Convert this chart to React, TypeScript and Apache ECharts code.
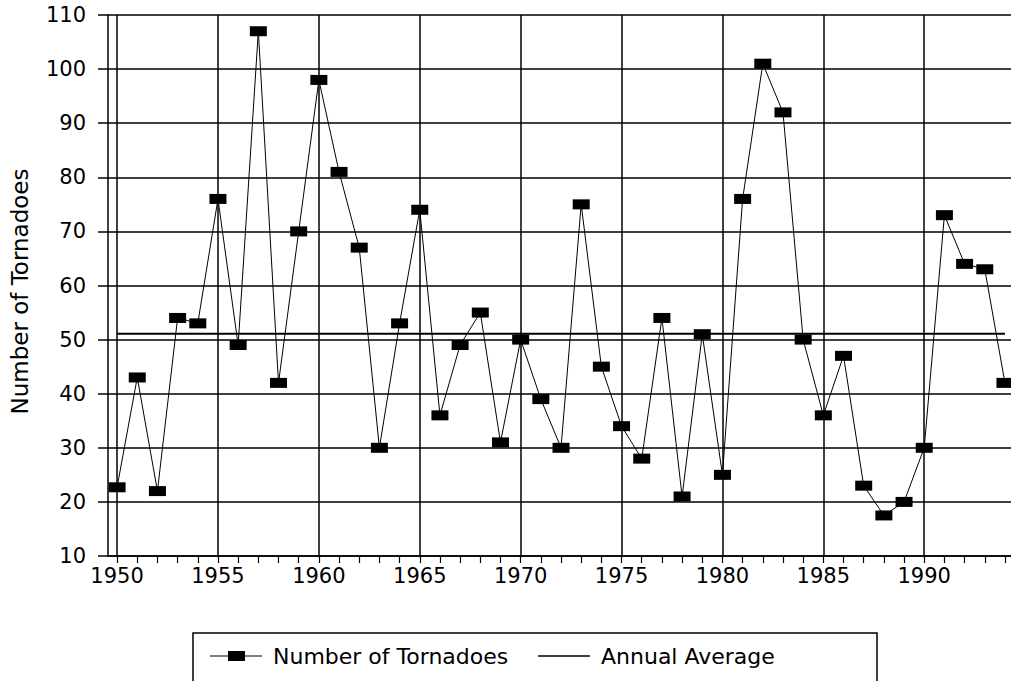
import React, { useEffect, useRef } from "react";
import * as echarts from "echarts";

const years: number[] = [];
for (let y = 1950; y <= 1994; y++) years.push(y);

const tornadoes = [
  22.7, 43, 22, 54, 53, 76, 49, 107, 42, 70,
  98, 81, 67, 30, 53, 74, 36, 49, 55, 31,
  50, 39, 30, 75, 45, 34, 28, 54, 21, 51,
  25, 76, 101, 92, 50, 36, 47, 23, 17.5, 20,
  30, 73, 64, 63, 42,
];

const averageYears = [1950, 1994];
const averageValues = [51.1, 51.1];

const xLabelYears = [1950, 1955, 1960, 1965, 1970, 1975, 1980, 1985, 1990];

const FONT = "DejaVu Sans";

export default function App() {
  const ref = useRef<HTMLDivElement>(null);
  useEffect(() => {
    if (!ref.current) return;
    const chart = echarts.init(ref.current, undefined, { renderer: "svg" });
    chart.setOption({
      animation: false,
      backgroundColor: "#fff",
      grid: { left: 107, right: 0, top: 15, bottom: 125, containLabel: false },
      xAxis: {
        type: "value",
        min: 1949.55,
        max: 1994.3,
        splitLine: { show: false },
        axisLine: { show: true, onZero: false, lineStyle: { color: "#000", width: 1.5 } },
        axisTick: {
          show: true,
          customValues: years,
          length: 7,
          lineStyle: { color: "#000", width: 1.2 },
        },
        axisLabel: {
          customValues: xLabelYears,
          margin: 9,
          color: "#000",
          fontFamily: FONT,
          fontSize: 21,
          formatter: (v: number) => String(v),
        },
      },
      yAxis: {
        type: "value",
        min: 10,
        max: 110,
        interval: 10,
        name: "Number of Tornadoes",
        nameLocation: "middle",
        nameGap: 77,
        nameTextStyle: { color: "#000", fontFamily: FONT, fontSize: 23, padding: [0, 12, 0, 0] },
        axisLine: { show: true, lineStyle: { color: "#000", width: 1.5 } },
        axisTick: { show: true, length: 10, lineStyle: { color: "#000", width: 1.5 } },
        splitLine: { show: true, lineStyle: { color: "#000", width: 1.5 } },
        axisLabel: { margin: 22, color: "#000", fontFamily: FONT, fontSize: 21 },
      },
      legend: [
        {
          left: 205,
          top: 640,
          itemWidth: 52,
          itemHeight: 10,
          data: [
            {
              name: "Number of Tornadoes",
              icon: "path://M0,4.4H52V5.6H0Z M18,0H35V10H18Z",
            },
          ],
          textStyle: { color: "#000", fontFamily: FONT, fontSize: 22, padding: [0, 0, 0, 6] },
        },
        {
          left: 533,
          top: 640,
          itemWidth: 52,
          itemHeight: 10,
          data: [{ name: "Annual Average", icon: "path://M0,0M0,4.2H52V5.8H0Z M52,10" }],
          textStyle: { color: "#000", fontFamily: FONT, fontSize: 22, padding: [0, 0, 0, 6] },
        },
      ],
      graphic: [
        {
          type: "rect",
          shape: { x: 193, y: 633, width: 684, height: 70 },
          style: { fill: "none", stroke: "#000", lineWidth: 1.5 },
          silent: true,
        },
      ],
      series: [
        {
          name: "Annual Average",
          type: "line",
          data: averageYears.map((y, i) => [y, averageValues[i]]),
          symbol: "none",
          itemStyle: { color: "#000" },
          lineStyle: { color: "#000", width: 2 },
          markLine: {
            silent: true,
            symbol: "none",
            label: { show: false },
            lineStyle: { color: "#000", width: 1.5, type: "solid" },
            data: xLabelYears.map((y) => ({ xAxis: y })),
          },
          z: 2,
        },
        {
          name: "Number of Tornadoes",
          type: "line",
          data: years.map((y, i) => [y, tornadoes[i]]),
          symbol: "rect",
          symbolSize: [17, 10],
          itemStyle: { color: "#000" },
          lineStyle: { color: "#000", width: 1 },
          z: 3,
        },
      ],
    });
    return () => chart.dispose();
  }, []);
  return <div ref={ref} style={{ width: 1011, height: 681, position: "absolute", left: 0, top: 0 }} />;
}
